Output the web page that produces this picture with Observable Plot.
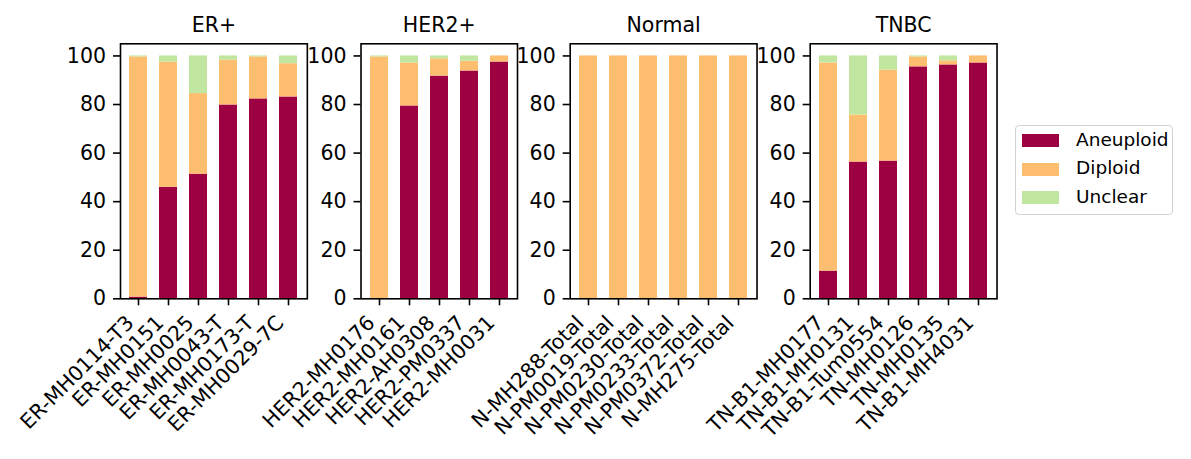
<!DOCTYPE html>
<html><head><meta charset="utf-8">
<script src="https://cdn.jsdelivr.net/npm/d3@7"></script>
<script src="https://cdn.jsdelivr.net/npm/@observablehq/plot@0.6"></script>
<style>
html,body{margin:0;padding:0;background:#fff;}
#wrap{position:relative;width:1191px;height:459px;overflow:hidden;font-family:"DejaVu Sans",sans-serif;}
#wrap svg{position:absolute;left:0;top:0;overflow:visible;}
.legend{position:absolute;left:1015px;top:125px;width:158px;height:90px;border:1.6px solid #d3d3d3;border-radius:4px;background:#fff;box-sizing:border-box;}
.legend .sw{position:absolute;left:6px;width:37px;height:12.7px;}
.legend .lb{position:absolute;left:60px;font-size:18.5px;line-height:20px;color:#000;white-space:nowrap;}
</style></head><body><div id="wrap"></div>
<script>
const statuses = ["Aneuploid", "Diploid", "Unclear"];
const colors = ["#9e0142", "#fdbf6f", "#c1e6a0"];
const groups = ["ER+", "HER2+", "Normal", "TNBC"];

const erSamples = ["ER-MH0114-T3", "ER-MH0151", "ER-MH0025", "ER-MH0043-T", "ER-MH0173-T", "ER-MH0029-7C"];
const erAneuploid = [0.7, 45.9, 51.3, 79.8, 82.3, 83.1];
const erDiploid   = [98.9, 51.6, 33.2, 18.5, 17.3, 13.7];
const erUnclear   = [0.4, 2.5, 15.5, 1.7, 0.4, 3.2];

const her2Samples = ["HER2-MH0176", "HER2-MH0161", "HER2-AH0308", "HER2-PM0337", "HER2-MH0031"];
const her2Aneuploid = [0, 79.4, 91.7, 93.8, 97.5];
const her2Diploid   = [99.6, 17.7, 7.1, 4.0, 2.5];
const her2Unclear   = [0.4, 2.9, 1.2, 2.2, 0];

const normalSamples = ["N-MH288-Total", "N-PM0019-Total", "N-PM0230-Total", "N-PM0233-Total", "N-PM0372-Total", "N-MH275-Total"];
const normalAneuploid = [0, 0, 0, 0, 0, 0];
const normalDiploid   = [100, 100, 100, 100, 100, 100];
const normalUnclear   = [0, 0, 0, 0, 0, 0];

const tnbcSamples = ["TN-B1-MH0177", "TN-B1-MH0131", "TN-B1-Tum0554", "TN-MH0126", "TN-MH0135", "TN-B1-MH4031"];
const tnbcAneuploid = [11.4, 56.3, 56.7, 95.5, 96.3, 97.1];
const tnbcDiploid   = [85.7, 19.4, 37.5, 4.1, 1.7, 2.9];
const tnbcUnclear   = [2.9, 24.3, 5.8, 0.4, 2.0, 0];

const yTicks = [0, 20, 40, 60, 80, 100];

const panels = [
  {title: groups[0], samples: erSamples, series: [erAneuploid, erDiploid, erUnclear]},
  {title: groups[1], samples: her2Samples, series: [her2Aneuploid, her2Diploid, her2Unclear]},
  {title: groups[2], samples: normalSamples, series: [normalAneuploid, normalDiploid, normalUnclear]},
  {title: groups[3], samples: tnbcSamples, series: [tnbcAneuploid, tnbcDiploid, tnbcUnclear]}
];

const W = 1191, H = 459;
const frameLefts = [120, 360.5, 569.7, 809.7];
const step = 30.33;
const frameTop = 43.3, frameBottom = 298.3;
const FS = 20.5;

const wrap = document.getElementById("wrap");

panels.forEach((p, i) => {
  const rows = [];
  p.samples.forEach((s, j) => {
    statuses.forEach((st, k) => rows.push({sample: s, status: st, value: p.series[k][j]}));
  });
  const L = frameLefts[i];
  const fw = step * (p.samples.length + 0.16);
  const chart = Plot.plot({
    width: W, height: H,
    marginLeft: L, marginRight: W - L - fw,
    marginTop: frameTop, marginBottom: H - frameBottom,
    x: {type: "band", domain: p.samples, paddingInner: 0.4, paddingOuter: 0.28, label: null},
    y: {domain: [0, 105], label: null},
    color: {domain: statuses, range: colors},
    style: {background: "transparent", fontFamily: "DejaVu Sans", fontSize: FS + "px", overflow: "visible", color: "#000"},
    marks: [
      Plot.barY(rows, {x: "sample", y: "value", fill: "status"}),
      Plot.frame({stroke: "#000", strokeWidth: 1.6}),
      Plot.axisY({ticks: yTicks, tickSize: 7, tickPadding: 7.5, strokeWidth: 1.6, label: null, tickFormat: d => String(d), fontSize: FS}),
      Plot.axisX({tickSize: 7, strokeWidth: 1.6, tickFormat: () => "", label: null}),
      Plot.axisX({tickSize: 0, tickPadding: 25.3, tickRotate: -45, dx: -3.5, lineAnchor: "bottom", textAnchor: "end", label: null, fontSize: FS}),
      Plot.text([p.title], {frameAnchor: "top", dy: -12, lineAnchor: "bottom", fontSize: FS, fill: "#000"})
    ]
  });
  wrap.appendChild(chart);
});

const leg = document.createElement("div");
leg.className = "legend";
const rowTops = [8.4, 37.1, 65.4];
statuses.forEach((st, k) => {
  const sw = document.createElement("div");
  sw.className = "sw";
  sw.style.top = rowTops[k] + "px";
  sw.style.background = colors[k];
  leg.appendChild(sw);
  const lb = document.createElement("div");
  lb.className = "lb";
  lb.style.top = (rowTops[k] + 6.35 - 10 - 1) + "px";
  lb.textContent = st;
  leg.appendChild(lb);
});
wrap.appendChild(leg);
</script>
</body></html>
